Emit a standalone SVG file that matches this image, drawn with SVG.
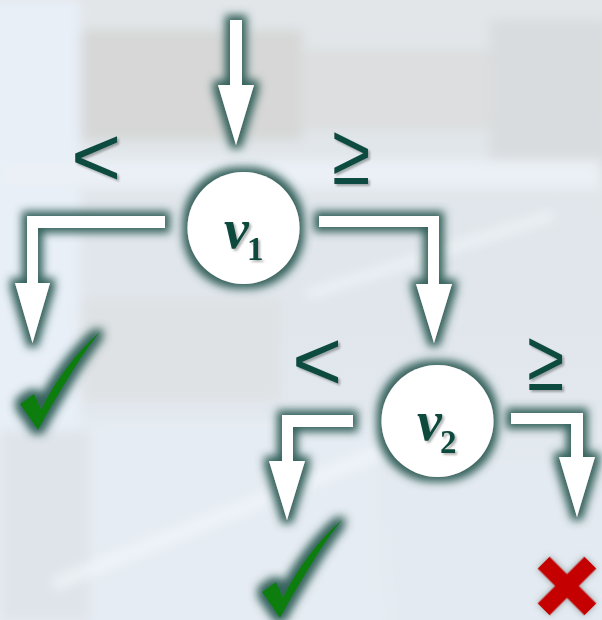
<svg xmlns="http://www.w3.org/2000/svg" width="602" height="620" viewBox="0 0 602 620">
  <defs>
    <style>
      .arrow { fill: #ffffff; filter: url(#glow); }
      .node  { fill: #ffffff; filter: url(#glow); }
      .op    { font-family: "Liberation Sans", Arial, sans-serif; font-size: 86px; fill: #0e4b3f; filter: url(#tshadow); }
      .var   { font-family: "Liberation Serif", "Times New Roman", serif; font-style: italic; font-weight: bold; font-size: 56px; fill: #0b4a3c; filter: url(#tshadow); }
      .sub   { font-style: normal; font-size: 33px; }
      .check { fill: #0a7d0a; filter: url(#glow); }
      .cross { fill: #c40000; filter: url(#glowSoft); }
    </style>
    <!-- dark teal halo behind white shapes -->
    <filter id="glow" x="-40%" y="-40%" width="180%" height="180%">
      <feMorphology in="SourceAlpha" operator="dilate" radius="5" result="grow"/>
      <feGaussianBlur in="grow" stdDeviation="4.5" result="blur"/>
      <feFlood flood-color="#35625c" flood-opacity="1"/>
      <feComposite in2="blur" operator="in" result="halo"/>
      <feMerge>
        <feMergeNode in="halo"/>
        <feMergeNode in="SourceGraphic"/>
      </feMerge>
    </filter>
    <filter id="glowSoft" x="-40%" y="-40%" width="180%" height="180%">
      <feGaussianBlur in="SourceAlpha" stdDeviation="3" result="blur"/>
      <feFlood flood-color="#5a7a76" flood-opacity="0.6"/>
      <feComposite in2="blur" operator="in" result="halo"/>
      <feMerge>
        <feMergeNode in="halo"/>
        <feMergeNode in="SourceGraphic"/>
      </feMerge>
    </filter>
    <filter id="tshadow" x="-30%" y="-30%" width="160%" height="160%">
      <feDropShadow dx="2" dy="2" stdDeviation="1" flood-color="#000000" flood-opacity="0.3"/>
    </filter>
    <filter id="haze" x="-10%" y="-10%" width="120%" height="120%">
      <feGaussianBlur stdDeviation="6"/>
    </filter>
    <linearGradient id="bgGrad" x1="0" y1="0" x2="0" y2="1">
      <stop offset="0" stop-color="#e2e6e9"/>
      <stop offset="0.5" stop-color="#e0e6ec"/>
      <stop offset="1" stop-color="#e6ecf3"/>
    </linearGradient>
  </defs>

  <!-- faded backdrop -->
  <g id="background">
    <rect x="0" y="0" width="602" height="620" fill="url(#bgGrad)"/>
    <g filter="url(#haze)">
      <rect x="-10" y="0" width="90" height="620" fill="#e8eff7"/>
      <rect x="82" y="30" width="220" height="110" fill="#d6d7d6"/>
      <rect x="300" y="50" width="190" height="80" fill="#dcdedf"/>
      <rect x="490" y="20" width="120" height="160" fill="#d9dcde"/>
      <rect x="0" y="160" width="602" height="28" fill="#eaf0f5"/>
      <rect x="80" y="300" width="200" height="100" fill="#dfe2e4"/>
      <rect x="390" y="460" width="220" height="170" fill="#e4eaf1"/>
      <rect x="80" y="420" width="300" height="200" fill="#e6ecf3"/>
      <rect x="0" y="430" width="90" height="190" fill="#dfe4ea"/>
    </g>
    <g fill="#f2f7fb" opacity="0.7" filter="url(#haze)">
      <rect x="40" y="510" width="360" height="14" transform="rotate(-22 220 517)"/>
      <rect x="300" y="250" width="260" height="10" transform="rotate(-18 430 255)"/>
    </g>
  </g>

  <!-- connectors -->
  <g id="connectors">
    <!-- entry into v1 -->
    <polygon class="arrow" points="230,20 242,20 242,85 254,85 236,145 218,85 230,85"/>
    <!-- v1 : less than -->
    <polygon class="arrow" points="165,216 27,216 27,283 15,283 32.5,343 50,283 38,283 38,228 165,228"/>
    <!-- v1 : greater or equal -->
    <polygon class="arrow" points="319,216 439,216 439,284 452,284 434,343 416,284 428,284 428,227 319,227"/>
    <!-- v2 : less than -->
    <polygon class="arrow" points="353,415 282,415 282,461 269,461 287,520 305,461 293,461 293,427 353,427"/>
    <!-- v2 : greater or equal -->
    <polygon class="arrow" points="511,413 583,413 583,457 595,457 577,517 559,457 571,457 571,424 511,424"/>
  </g>

  <!-- branch labels -->
  <g id="labels">
    <text class="op" x="71" y="186">&lt;</text>
    <text class="op" x="332" y="184" textLength="38" lengthAdjust="spacingAndGlyphs">≥</text>
    <text class="op" x="292" y="390">&lt;</text>
    <text class="op" x="527" y="390" textLength="37" lengthAdjust="spacingAndGlyphs">≥</text>
  </g>

  <g id="v1">
    <circle class="node" cx="243.5" cy="228" r="56"/>
    <text class="var" x="224" y="248">v<tspan class="sub" x="247" y="260">1</tspan></text>
  </g>

  <g id="v2">
    <circle class="node" cx="437.5" cy="421" r="56"/>
    <text class="var" x="417" y="440">v<tspan class="sub" x="440" y="453">2</tspan></text>
  </g>

  <g id="accept1">
    <path class="check" d="M0,72 L14,62 L21,77 C36,48 56,20 80,0 C62,22 42,55 18,98 Z" transform="translate(20 332)"/>
  </g>

  <g id="accept2">
    <path class="check" d="M0,72 L14,62 L21,77 C36,48 56,20 80,0 C62,22 42,55 18,98 Z" transform="translate(262 520)"/>
  </g>

  <g id="reject">
    <g class="cross" transform="translate(567 586) rotate(45)">
      <path d="M-8.5,-33 H8.5 V-8.5 H33 V8.5 H8.5 V33 H-8.5 V8.5 H-33 V-8.5 H-8.5 Z"/>
    </g>
  </g>
</svg>
